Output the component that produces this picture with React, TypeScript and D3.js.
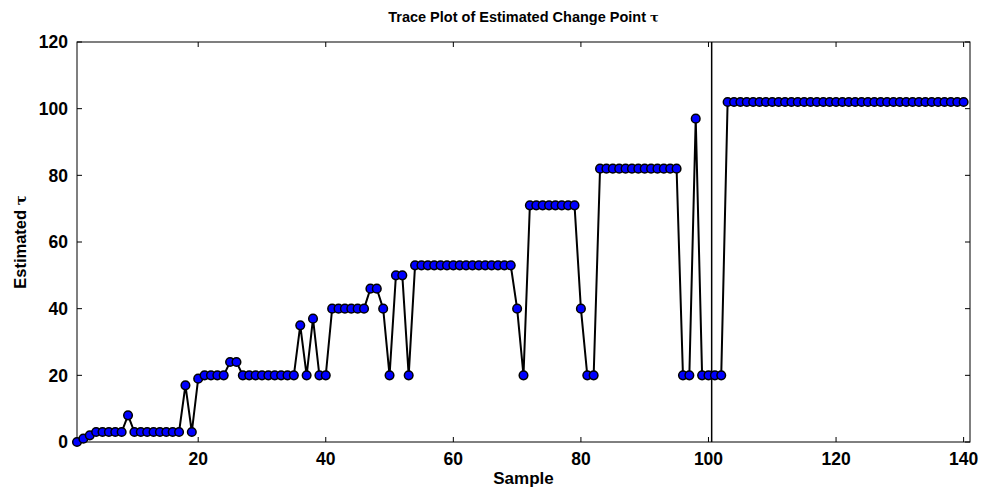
import React from "react";
import * as d3 from "d3";

const samples: number[] = d3.range(1, 141);
const tauValues: number[] = [
  0, 1, 2, 3, 3, 3, 3, 3, 8, 3,
  3, 3, 3, 3, 3, 3, 3, 17, 3, 19,
  20, 20, 20, 20, 24, 24, 20, 20, 20, 20,
  20, 20, 20, 20, 20, 35, 20, 37, 20, 20,
  40, 40, 40, 40, 40, 40, 46, 46, 40, 20,
  50, 50, 20, 53, 53, 53, 53, 53, 53, 53,
  53, 53, 53, 53, 53, 53, 53, 53, 53, 40,
  20, 71, 71, 71, 71, 71, 71, 71, 71, 40,
  20, 20, 82, 82, 82, 82, 82, 82, 82, 82,
  82, 82, 82, 82, 82, 20, 20, 97, 20, 20,
  20, 20, 102, 102, 102, 102, 102, 102, 102, 102,
  102, 102, 102, 102, 102, 102, 102, 102, 102, 102,
  102, 102, 102, 102, 102, 102, 102, 102, 102, 102,
  102, 102, 102, 102, 102, 102, 102, 102, 102, 102,
];
const xTicks: number[] = [20, 40, 60, 80, 100, 120, 140];
const yTicks: number[] = [0, 20, 40, 60, 80, 100, 120];
const changePoint = 100.5;
const xDomain: [number, number] = [1, 141];
const yDomain: [number, number] = [0, 120];

const W = 984;
const H = 492;
const L = 77;
const R = 970;
const T = 42;
const B = 442;
const FONT = "Arial, 'Liberation Sans', Helvetica, sans-serif";

export default function App() {
  const x = d3.scaleLinear().domain(xDomain).range([L, R]);
  const y = d3.scaleLinear().domain(yDomain).range([B, T]);
  const line = d3
    .line<number>()
    .x((_, i) => x(samples[i]))
    .y((d) => y(d));
  const tl = 5;
  return (
    <svg
      width={W}
      height={H}
      style={{ position: "absolute", left: 0, top: 0, background: "#fff" }}
      fontFamily={FONT}
    >
      <rect x={0} y={0} width={W} height={H} fill="#fff" />
      <text x={(L + R) / 2} y={22} textAnchor="middle" fontSize={14.5} fontWeight="bold">
        Trace Plot of Estimated Change Point{" "}
        <tspan fontFamily="'DejaVu Serif', serif" fontSize={13}>τ</tspan>
      </text>
      <rect x={L} y={T} width={R - L} height={B - T} fill="none" stroke="#000" strokeWidth={1} />
      {xTicks.map((t) => (
        <g key={"x" + t}>
          <line x1={x(t)} x2={x(t)} y1={B} y2={B - tl} stroke="#000" />
          <line x1={x(t)} x2={x(t)} y1={T} y2={T + tl} stroke="#000" />
          <text x={x(t)} y={465} textAnchor="middle" fontSize={17.5} fontWeight="bold">
            {t}
          </text>
        </g>
      ))}
      {yTicks.map((t) => (
        <g key={"y" + t}>
          <line x1={L} x2={L + tl} y1={y(t)} y2={y(t)} stroke="#000" />
          <line x1={R} x2={R - tl} y1={y(t)} y2={y(t)} stroke="#000" />
          <text x={68} y={y(t) + 6.2} textAnchor="end" fontSize={17.5} fontWeight="bold">
            {t}
          </text>
        </g>
      ))}
      <text x={(L + R) / 2} y={484} textAnchor="middle" fontSize={17} fontWeight="bold">
        Sample
      </text>
      <text
        transform={`translate(26,${(T + B) / 2}) rotate(-90)`}
        textAnchor="middle"
        fontSize={16.5}
        fontWeight="bold"
      >
        Estimated{" "}
        <tspan fontFamily="'DejaVu Serif', serif" fontSize={15}>τ</tspan>
      </text>
      <line x1={x(changePoint)} x2={x(changePoint)} y1={T} y2={B} stroke="#000" strokeWidth={1.5} />
      <path d={line(tauValues) || ""} fill="none" stroke="#000" strokeWidth={2} />
      {tauValues.map((v, i) => (
        <circle
          key={i}
          cx={x(samples[i])}
          cy={y(v)}
          r={4.3}
          fill="#0000ff"
          stroke="#000"
          strokeWidth={1.5}
        />
      ))}
    </svg>
  );
}
